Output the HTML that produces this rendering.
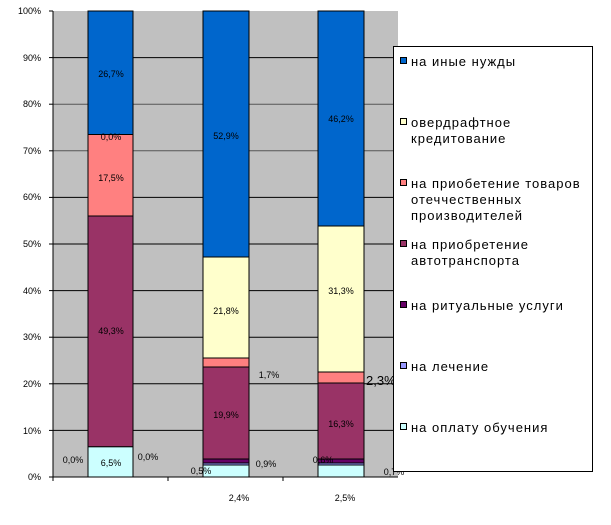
<!DOCTYPE html>
<html><head><meta charset="utf-8"><style>
body{margin:0;background:#fff;}
text{font-family:"Liberation Sans",sans-serif;}
</style></head><body>
<svg width="611" height="520" xmlns="http://www.w3.org/2000/svg">
<rect x="53" y="11" width="345" height="466" fill="#c0c0c0"/>
<g stroke="#000" stroke-width="1">
<line x1="53" x2="398" y1="57.6" y2="57.6"/><line x1="53" x2="398" y1="104.2" y2="104.2" stroke="#555"/>
<line x1="53" x2="398" y1="150.8" y2="150.8" stroke="#555"/><line x1="53" x2="398" y1="197.4" y2="197.4"/>
<line x1="53" x2="398" y1="244" y2="244"/><line x1="53" x2="398" y1="290.6" y2="290.6"/>
<line x1="53" x2="398" y1="337.2" y2="337.2"/><line x1="53" x2="398" y1="383.8" y2="383.8"/>
<line x1="53" x2="398" y1="430.4" y2="430.4"/>
<line x1="53" x2="53" y1="11" y2="477"/><line x1="53" x2="398" y1="477" y2="477"/>
<line x1="49" x2="53" y1="11" y2="11"/><line x1="49" x2="53" y1="57.6" y2="57.6"/><line x1="49" x2="53" y1="104.2" y2="104.2"/><line x1="49" x2="53" y1="150.8" y2="150.8"/><line x1="49" x2="53" y1="197.4" y2="197.4"/><line x1="49" x2="53" y1="244" y2="244"/><line x1="49" x2="53" y1="290.6" y2="290.6"/><line x1="49" x2="53" y1="337.2" y2="337.2"/><line x1="49" x2="53" y1="383.8" y2="383.8"/><line x1="49" x2="53" y1="430.4" y2="430.4"/><line x1="49" x2="53" y1="477" y2="477"/>
<line x1="53" x2="53" y1="477" y2="481"/><line x1="168" x2="168" y1="477" y2="481"/><line x1="283" x2="283" y1="477" y2="481"/>
</g>
<g font-size="9" text-anchor="end" fill="#000">
<text x="41" y="14">100%</text><text x="41" y="61">90%</text><text x="41" y="107">80%</text><text x="41" y="154">70%</text><text x="41" y="200">60%</text><text x="41" y="247">50%</text><text x="41" y="294">40%</text><text x="41" y="340">30%</text><text x="41" y="387">20%</text><text x="41" y="434">10%</text><text x="41" y="480">0%</text>
</g>
<g stroke="#000" stroke-width="1">
<rect x="88" y="446.7" width="45" height="30.3" fill="#ccffff"/>
<rect x="88" y="216" width="45" height="230.7" fill="#993366"/>
<rect x="88" y="134.5" width="45" height="81.5" fill="#ff8080"/>
<rect x="88" y="11" width="45" height="123.5" fill="#0066cc"/>
<rect x="203" y="465" width="46" height="12" fill="#ccffff"/>
<rect x="203" y="463" width="46" height="2" fill="#9999ff"/>
<rect x="203" y="459" width="46" height="4" fill="#660066"/>
<rect x="203" y="367" width="46" height="92" fill="#993366"/>
<rect x="203" y="358" width="46" height="9" fill="#ff8080"/>
<rect x="203" y="257" width="46" height="101" fill="#ffffcc"/>
<rect x="203" y="11" width="46" height="246" fill="#0066cc"/>
<rect x="318" y="465" width="46" height="12" fill="#ccffff"/>
<rect x="318" y="463" width="46" height="2" fill="#9999ff"/>
<rect x="318" y="459" width="46" height="4" fill="#660066"/>
<rect x="318" y="383" width="46" height="76" fill="#993366"/>
<rect x="318" y="372" width="46" height="11" fill="#ff8080"/>
<rect x="318" y="226" width="46" height="146" fill="#ffffcc"/>
<rect x="318" y="11" width="46" height="215" fill="#0066cc"/>
</g>
<g font-size="9" text-anchor="middle" fill="#000">
<text x="111" y="77">26,7%</text><text x="111" y="140">0,0%</text><text x="111" y="181">17,5%</text>
<text x="111" y="334">49,3%</text><text x="111" y="466">6,5%</text><text x="73" y="463">0,0%</text><text x="148" y="460">0,0%</text>
<text x="226" y="139">52,9%</text><text x="226" y="314">21,8%</text><text x="226" y="418">19,9%</text>
<text x="269" y="378">1,7%</text><text x="266" y="467">0,9%</text><text x="201" y="474">0,5%</text>
<text x="341" y="122">46,2%</text><text x="341" y="294">31,3%</text><text x="341" y="427">16,3%</text>
<text x="323" y="463">0,6%</text><text x="394" y="475">0,7%</text>
<text x="239" y="501">2,4%</text><text x="345" y="501">2,5%</text>
</g>
<text x="366" y="385" font-size="13">2,3%</text>
<rect x="393.5" y="46.5" width="199" height="425" fill="#fff" stroke="#000"/>
<g stroke="#000" stroke-width="1">
<rect x="400.5" y="57.5" width="6" height="6" fill="#0066cc"/>
<rect x="400.5" y="118.5" width="6" height="6" fill="#ffffcc"/>
<rect x="400.5" y="179.5" width="6" height="6" fill="#ff8080"/>
<rect x="400.5" y="240.5" width="6" height="6" fill="#993366"/>
<rect x="400.5" y="301.5" width="6" height="6" fill="#660066"/>
<rect x="400.5" y="362.5" width="6" height="6" fill="#9999ff"/>
<rect x="400.5" y="423.5" width="6" height="6" fill="#ccffff"/>
</g>
<g font-size="13" fill="#000" letter-spacing="1">
<text x="411" y="66">на иные нужды</text>
<text x="411" y="127">овердрафтное</text><text x="411" y="143">кредитование</text>
<text x="411" y="188">на приобетение товаров</text><text x="411" y="204">отеччественных</text><text x="411" y="220">производителей</text>
<text x="411" y="249">на приобретение</text><text x="411" y="265">автотранспорта</text>
<text x="411" y="310">на ритуальные услуги</text>
<text x="411" y="371">на лечение</text>
<text x="411" y="432">на оплату обучения</text>
</g>
</svg>
</body></html>
